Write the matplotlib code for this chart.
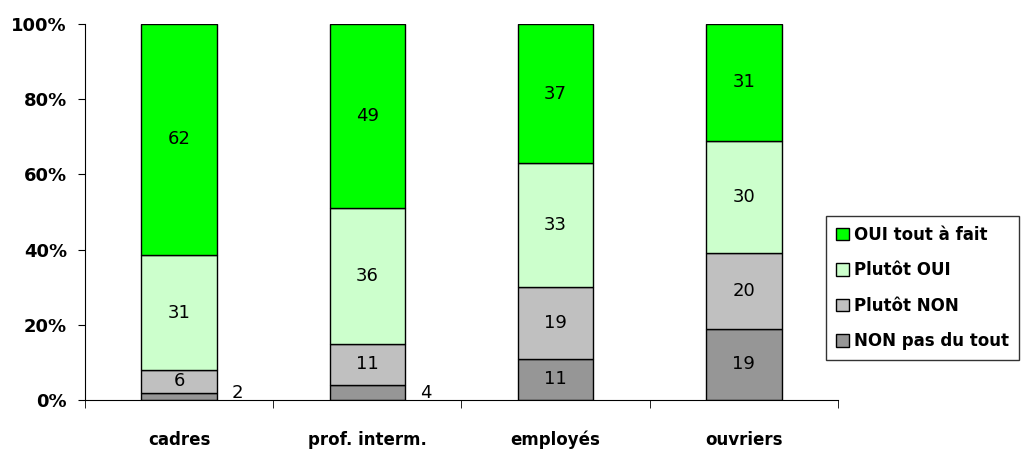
import matplotlib.pyplot as plt
import numpy as np
from matplotlib.patches import Patch

# data
categories = ['cadres', 'prof. interm.', 'employés', 'ouvriers']
non_pas = [2, 4, 11, 19]
plutot_non = [6, 11, 19, 20]
plutot_oui = [31, 36, 33, 30]
oui_tout = [62, 49, 37, 31]

series = [non_pas, plutot_non, plutot_oui, oui_tout]
names = ['NON pas du tout', 'Plutôt NON', 'Plutôt OUI', 'OUI tout à fait']
colors = ['#969696', '#C0C0C0', '#CCFFCC', '#00FF00']

vals = np.array(series, dtype=float)
pct = vals / vals.sum(axis=0) * 100

fig = plt.figure(figsize=(10.26, 4.5), dpi=100)
ax = fig.add_axes([0.0828, 0.111, 0.734, 0.8357])

x = np.arange(len(categories))
width = 0.4
bottom = np.zeros(len(categories))
for i in range(4):
    bars = ax.bar(x, pct[i], width, bottom=bottom, color=colors[i],
                  edgecolor='black', linewidth=1, zorder=2)
    for j in range(len(categories)):
        v = series[i][j]
        if pct[i][j] < 5:
            # small segment: label next to the bar
            ax.annotate(str(v), (x[j] + width / 2, 0), xytext=(15, 5),
                        textcoords='offset points', ha='center', va='center',
                        fontsize=13)
        else:
            ax.text(x[j], bottom[j] + pct[i][j] / 2, str(v), ha='center',
                    va='center', fontsize=13)
    bottom += pct[i]

ax.set_xlim(-0.5, 3.5)
ax.set_ylim(0, 100)
ax.set_yticks([0, 20, 40, 60, 80, 100])
ax.set_yticklabels(['0%', '20%', '40%', '60%', '80%', '100%'],
                   fontsize=13, fontweight='bold')
ax.set_xticks(x)
ax.set_xticklabels(categories, fontsize=12, fontweight='bold')
ax.tick_params(axis='x', length=0, pad=22)
ax.set_xticks(np.arange(-0.5, 4, 1), minor=True)
ax.tick_params(axis='x', which='minor', length=6, direction='out')
ax.tick_params(axis='y', length=5, direction='out', pad=8)
for s in ['top', 'right']:
    ax.spines[s].set_visible(False)

handles = [Patch(facecolor=colors[i], edgecolor='black', label=names[i])
           for i in [3, 2, 1, 0]]
leg = fig.legend(handles=handles, loc='center', bbox_to_anchor=(0.899, 0.36),
                 prop={'weight': 'bold', 'size': 12},
                 frameon=True, fancybox=False, edgecolor='black',
                 handlelength=0.8, handleheight=0.8, handletextpad=0.3,
                 labelspacing=1.05, borderpad=0.6, borderaxespad=0)
leg.get_frame().set_linewidth(1)

plt.savefig('out.png', dpi=100)
